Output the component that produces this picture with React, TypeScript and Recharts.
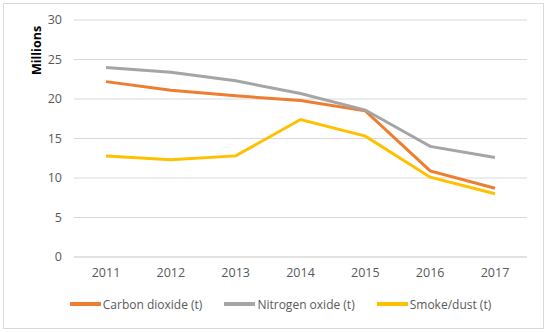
import React from 'react';
import { LineChart, Line, XAxis, YAxis, CartesianGrid, Legend } from 'recharts';

const years = ['2011', '2012', '2013', '2014', '2015', '2016', '2017'];
const carbonDioxide = [22.2, 21.1, 20.4, 19.8, 18.5, 10.9, 8.7];
const nitrogenOxide = [24.0, 23.4, 22.3, 20.7, 18.6, 14.0, 12.6];
const smokeDust = [12.8, 12.3, 12.8, 17.4, 15.3, 10.1, 8.0];
const yTicks = [0, 5, 10, 15, 20, 25, 30];

const seriesInfo = [
  { key: 'co2', name: 'Carbon dioxide (t)', color: '#ED7D31' },
  { key: 'nox', name: 'Nitrogen oxide (t)', color: '#A5A5A5' },
  { key: 'dust', name: 'Smoke/dust (t)', color: '#FFC000' },
];

const data = years.map((year, i) => ({
  year,
  co2: carbonDioxide[i],
  nox: nitrogenOxide[i],
  dust: smokeDust[i],
}));

const font = 'Open Sans, Noto Sans, sans-serif';

// legend drawn by hand so the line swatches come out like Excel's
function renderLegend() {
  return (
    <div style={{ display: 'flex', justifyContent: 'center', fontFamily: font, fontSize: 12, color: '#595959', height: 18 }}>
      {seriesInfo.map((s) => (
        <div key={s.key} style={{ display: 'flex', alignItems: 'center', margin: '0 11px' }}>
          <span style={{ display: 'inline-block', width: 31, height: 4, background: s.color, marginRight: 2 }}></span>
          <span>{s.name}</span>
        </div>
      ))}
    </div>
  );
}

export default function App() {
  return (
    <div style={{ position: 'absolute', left: 0, top: 0, width: 550, height: 332, background: '#fff' }}>
      <div style={{ position: 'absolute', left: 3, top: 3, width: 539, height: 324, border: '1px solid #D9D9D9' }}></div>
      <LineChart width={550} height={332} data={data} margin={{ top: 20, right: 23, left: 34, bottom: 27 }}>
        <CartesianGrid vertical={false} stroke="#D9D9D9" />
        <XAxis
          dataKey="year"
          height={30}
          padding={{ left: 32, right: 32 }}
          axisLine={{ stroke: '#D9D9D9' }}
          tickLine={false}
          tick={{ fill: '#595959', fontSize: 12.5, fontFamily: font }}
          dy={3}
        />
        <YAxis
          width={40}
          domain={[0, 30]}
          ticks={yTicks}
          axisLine={false}
          tickLine={false}
          tick={{ fill: '#595959', fontSize: 12.5, fontFamily: font, dx: -4 }}
          label={{
            value: 'Millions',
            angle: -90,
            position: 'insideLeft',
            dx: -2,
            dy: -88,
            style: { fontWeight: 'bold', fill: '#000', fontSize: 12.5, fontFamily: font, textAnchor: 'middle' },
          }}
        />
        <Legend verticalAlign="bottom" height={18} wrapperStyle={{ bottom: 19 }} content={renderLegend} />
        {seriesInfo.map((s) => (
          <Line
            key={s.key}
            type="linear"
            dataKey={s.key}
            name={s.name}
            stroke={s.color}
            strokeWidth={3}
            dot={false}
            isAnimationActive={false}
          />
        ))}
      </LineChart>
    </div>
  );
}
